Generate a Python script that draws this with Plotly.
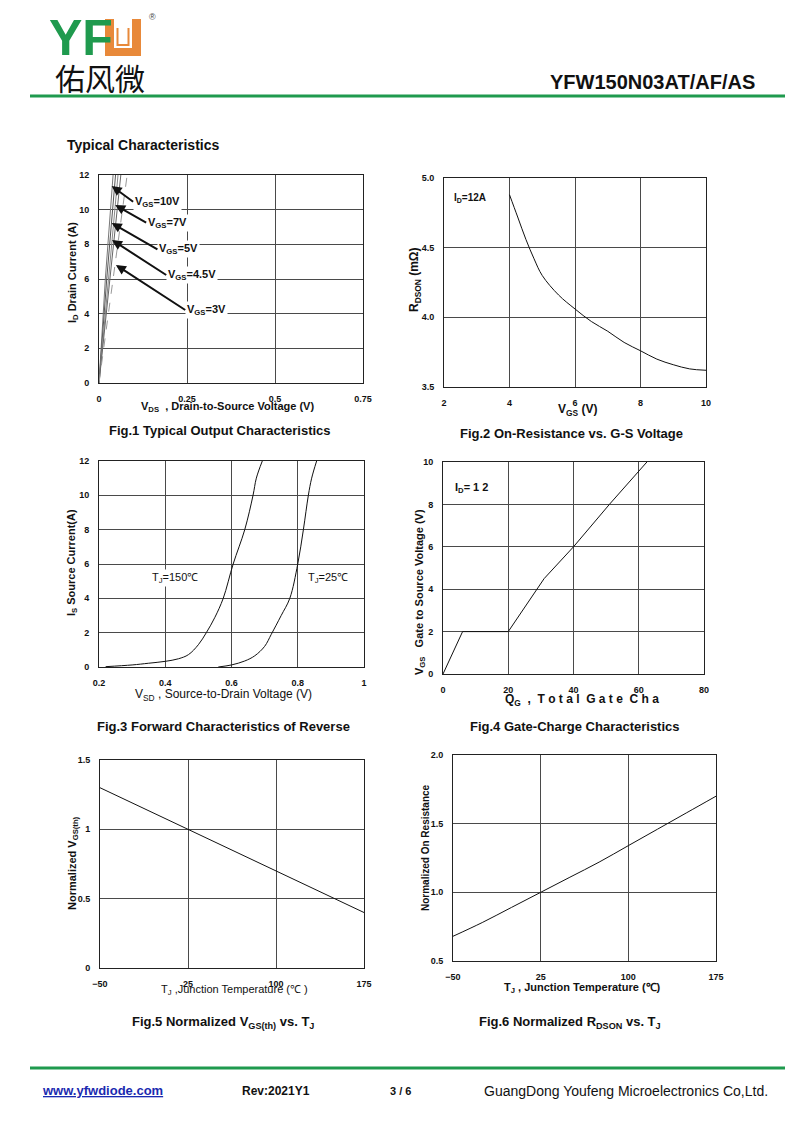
import plotly.graph_objects as go

PAGE_W, PAGE_H = 800, 1130
OFF = 8  # browser body margin
W, H = PAGE_W - 2 * OFF, PAGE_H - 2 * OFF

# ---------------- data ----------------
# Fig.1 output characteristics (VDS in V, ID in A)
fig1_labels = ["V<sub>GS</sub>=10V", "V<sub>GS</sub>=7V", "V<sub>GS</sub>=5V", "V<sub>GS</sub>=4.5V", "V<sub>GS</sub>=3V"]
fig1_vds = [
    [0, 0.018, 0.040],
    [0, 0.022, 0.047],
    [0, 0.026, 0.054],
    [0, 0.030, 0.062],
    [0, 0.039, 0.080],
]
fig1_id = [
    [0, 6.0, 12],
    [0, 6.0, 12],
    [0, 6.0, 12],
    [0, 6.0, 12],
    [0, 6.0, 12],
]
fig1_tip_x = [0.036, 0.046, 0.036, 0.037, 0.048]
fig1_tip_y = [11.37, 10.27, 9.23, 8.25, 6.81]
fig1_lbl_x = [0.097, 0.134, 0.166, 0.191, 0.245]
fig1_lbl_y = [10.46, 9.25, 7.71, 6.23, 4.21]

# Fig.2 On-resistance vs VGS
fig2_vgs = [4.0, 4.25, 4.5, 4.75, 5.0, 5.5, 6.0, 6.5, 7.0, 7.5, 8.0, 8.5, 9.0, 9.5, 10.0]
fig2_rds = [4.88, 4.72, 4.56, 4.42, 4.30, 4.16, 4.06, 3.97, 3.90, 3.82, 3.76, 3.70, 3.66, 3.63, 3.62]

# Fig.3 forward characteristics of reverse diode
fig3_v150 = [0.22, 0.30, 0.35, 0.40, 0.44, 0.47, 0.50, 0.524, 0.55, 0.575, 0.605, 0.64, 0.665, 0.675, 0.693]
fig3_i150 = [0.02, 0.12, 0.22, 0.33, 0.48, 0.72, 1.3, 2.0, 2.9, 4.0, 6.0, 8.0, 10.0, 11.0, 12.0]
fig3_v25 = [0.56, 0.60, 0.64, 0.67, 0.70, 0.72, 0.75, 0.776, 0.80, 0.817, 0.832, 0.842, 0.857]
fig3_i25 = [0.0, 0.12, 0.35, 0.65, 1.2, 1.9, 3.0, 4.0, 6.0, 8.0, 10.0, 11.0, 12.0]

# Fig.4 gate charge
fig4_qg = [0, 6, 20, 31, 40, 51, 62.5]
fig4_vgs = [0, 2, 2, 4.5, 6, 8, 10]

# Fig.5 normalized VGS(th) vs TJ
fig5_tj = [-50, 25, 100, 150, 175]
fig5_v = [1.30, 1.00, 0.70, 0.50, 0.40]

# Fig.6 normalized RDSON vs TJ
fig6_tj = [-50, -25, 0, 25, 50, 75, 100, 125, 150, 175]
fig6_r = [0.68, 0.78, 0.89, 1.00, 1.11, 1.22, 1.34, 1.46, 1.58, 1.70]

# ---------------- helpers ----------------
def X(px):
    return (px - OFF) / W

def Y(py):
    return 1 - (py - OFF) / H

FONT = "Liberation Sans, Arial, sans-serif"
NARROW = "Liberation Sans Narrow, Liberation Sans, Arial, sans-serif"
GRID = "#4a4a4a"
CAP = 13

fig = go.Figure()
annotations = []
shapes = []

def add_axes(n, px0, px1, py0, py1, xr, yr, xt, yt, xtt=None, ytt=None):
    sfx = "" if n == 1 else str(n)
    common = dict(showgrid=True, gridcolor=GRID, gridwidth=1, showline=True,
                  linecolor="#222", linewidth=1, mirror=True, zeroline=False,
                  ticks="", ticklabelstandoff=7,
                  tickfont=dict(family=FONT, size=9, color="#111", weight="bold"))
    xa = dict(common, domain=[X(px0), X(px1)], range=xr, tickvals=xt,
              anchor="y" + sfx, fixedrange=True)
    ya = dict(common, domain=[Y(py1), Y(py0)], range=yr, tickvals=yt,
              anchor="x" + sfx, fixedrange=True)
    if xtt is not None:
        xa["ticktext"] = xtt
    if ytt is not None:
        ya["ticktext"] = ytt
    fig.update_layout(**{"xaxis" + sfx: xa, "yaxis" + sfx: ya})
    return "x" + sfx, "y" + sfx

def txt(px, py, s, size=11, bold=True, color="#111", xanchor="center", angle=0, family=FONT):
    annotations.append(dict(xref="paper", yref="paper", x=X(px), y=Y(py), text=s,
                            showarrow=False, xanchor=xanchor, yanchor="middle",
                            textangle=angle,
                            font=dict(family=family, size=size, color=color,
                                      weight="bold" if bold else "normal")))

# ---------------- Fig.1 ----------------
xr1, yr1 = add_axes(1, 99, 363, 175, 383, [0, 0.75], [0, 12],
                    [0, 0.25, 0.5, 0.75], [0, 2, 4, 6, 8, 10, 12],
                    ["0", "0.25", "0.5", "0.75"])
greys = ["#777", "#555", "#888", "#666", "#999"]
for i in range(len(fig1_labels)):
    fig.add_trace(go.Scatter(x=fig1_vds[i], y=fig1_id[i], mode="lines",
                             line=dict(color=greys[i], width=1,
                                       dash="dash" if i == 4 else "solid"),
                             xaxis=xr1, yaxis=yr1, showlegend=False, hoverinfo="skip"))
    annotations.append(dict(xref=xr1, yref=yr1, x=fig1_tip_x[i], y=fig1_tip_y[i],
                            axref=xr1, ayref=yr1, ax=fig1_lbl_x[i], ay=fig1_lbl_y[i],
                            text=fig1_labels[i], showarrow=True, arrowhead=2,
                            arrowsize=1, arrowwidth=2, arrowcolor="#111",
                            xanchor="left", yanchor="middle", bgcolor="white",
                            font=dict(family=FONT, size=11, color="#111", weight="bold")))
txt(228, 407, "V<sub>DS</sub>  , Drain-to-Source Voltage (V)", 11)
txt(73, 273, "I<sub>D</sub> Drain Current (A)", 11, angle=-90)
txt(220, 430, "Fig.1 Typical Output Characteristics", CAP)

# ---------------- Fig.2 ----------------
xr2, yr2 = add_axes(2, 444, 706, 178, 387, [2, 10], [3.5, 5.0],
                    [2, 4, 6, 8, 10], [3.5, 4.0, 4.5, 5.0],
                    None, ["3.5", "4.0", "4.5", "5.0"])
fig.add_trace(go.Scatter(x=fig2_vgs, y=fig2_rds, mode="lines", line=dict(color="#111", width=1, shape="spline"),
                         xaxis=xr2, yaxis=yr2, showlegend=False, hoverinfo="skip"))
txt(452, 198, "I<sub>D</sub>=12A", 10, xanchor="left")
txt(577, 410, "V<sub>GS</sub> (V)", 12)
txt(415, 280, "R<sub>DSON</sub> (mΩ)", 12, angle=-90)
txt(571, 433, "Fig.2 On-Resistance vs. G-S Voltage", CAP)

# ---------------- Fig.3 ----------------
xr3, yr3 = add_axes(3, 99, 364, 461, 667, [0.2, 1.0], [0, 12],
                    [0.2, 0.4, 0.6, 0.8, 1.0], [0, 2, 4, 6, 8, 10, 12],
                    ["0.2", "0.4", "0.6", "0.8", "1"])
fig.add_trace(go.Scatter(x=fig3_v150, y=fig3_i150, mode="lines", line=dict(color="#111", width=1, shape="spline"),
                         xaxis=xr3, yaxis=yr3, showlegend=False, hoverinfo="skip"))
fig.add_trace(go.Scatter(x=fig3_v25, y=fig3_i25, mode="lines", line=dict(color="#111", width=1, shape="spline"),
                         xaxis=xr3, yaxis=yr3, showlegend=False, hoverinfo="skip"))
for lx, s in [(0.43, "T<sub>J</sub>=150℃"), (0.892, "T<sub>J</sub>=25℃")]:
    annotations.append(dict(xref=xr3, yref=yr3, x=lx, y=5.2, text=s, showarrow=False,
                            bgcolor="white", font=dict(family=FONT, size=11, color="#111")))
txt(224, 695, "V<sub>SD</sub> , Source-to-Drain Voltage (V)", 12, bold=False)
txt(72, 562, "I<sub>S</sub> Source Current(A)", 11, angle=-90)
txt(224, 726, "Fig.3 Forward Characteristics of Reverse", CAP)

# ---------------- Fig.4 ----------------
xr4, yr4 = add_axes(4, 443, 704, 462, 674, [0, 80], [0, 10],
                    [0, 20, 40, 60, 80], [0, 2, 4, 6, 8, 10])
fig.add_trace(go.Scatter(x=fig4_qg, y=fig4_vgs, mode="lines", line=dict(color="#111", width=1),
                         xaxis=xr4, yaxis=yr4, showlegend=False, hoverinfo="skip"))
txt(453, 488, "I<sub>D</sub>= 1 2", 11, xanchor="left")
txt(503, 700, "Q<sub>G</sub>  ,  T o t a l  G a t e  C h a", 12, xanchor="left")
txt(420, 592, "V<sub>GS</sub>   Gate to Source Voltage (V)", 11, angle=-90)
txt(575, 726, "Fig.4 Gate-Charge Characteristics", CAP)

# ---------------- Fig.5 ----------------
xr5, yr5 = add_axes(5, 100, 364, 760, 968, [-50, 175], [0, 1.5],
                    [-50, 25, 100, 175], [0, 0.5, 1, 1.5],
                    None, ["0", "0.5", "1", "1.5"])
fig.add_trace(go.Scatter(x=fig5_tj, y=fig5_v, mode="lines", line=dict(color="#111", width=1),
                         xaxis=xr5, yaxis=yr5, showlegend=False, hoverinfo="skip"))
txt(234, 990, "T<sub>J</sub> ,Junction Temperature (℃ )", 11, bold=False)
txt(73, 863, "Normalized V<sub>GS(th)</sub>", 11, angle=-90)
txt(223, 1022, "Fig.5 Normalized V<sub>GS(th)</sub> vs. T<sub>J</sub>", CAP)

# ---------------- Fig.6 ----------------
xr6, yr6 = add_axes(6, 453, 716, 755, 961, [-50, 175], [0.5, 2.0],
                    [-50, 25, 100, 175], [0.5, 1.0, 1.5, 2.0],
                    None, ["0.5", "1.0", "1.5", "2.0"])
fig.add_trace(go.Scatter(x=fig6_tj, y=fig6_r, mode="lines", line=dict(color="#111", width=1, shape="spline"),
                         xaxis=xr6, yaxis=yr6, showlegend=False, hoverinfo="skip"))
txt(582, 988, "T<sub>J</sub> , Junction Temperature (℃)", 11)
txt(425, 848, "Normalized On Resistance", 10, angle=-90)
txt(570, 1022, "Fig.6 Normalized R<sub>DSON</sub> vs. T<sub>J</sub>", CAP)

# ---------------- page header / footer ----------------
GREEN = "#1f9a4e"
ORANGE = "#e8893a"
txt(47, 38, "YF", 50, color=GREEN, xanchor="left", family=NARROW)
shapes.append(dict(type="rect", xref="paper", yref="paper", x0=X(105), x1=X(141), y0=Y(56), y1=Y(19),
                   fillcolor=ORANGE, line=dict(width=0)))
shapes.append(dict(type="rect", xref="paper", yref="paper", x0=X(114), x1=X(132), y0=Y(48), y1=Y(19),
                   fillcolor="white", line=dict(width=0)))
shapes.append(dict(type="path", xref="paper", yref="paper",
                   path="M {},{} L {},{} L {},{} L {},{}".format(X(117.5), Y(28), X(117.5), Y(45),
                                                                  X(128.5), Y(45), X(128.5), Y(28)),
                   line=dict(color=ORANGE, width=2)))
txt(152, 17, "®", 9, bold=False, color="#444")
txt(53, 77, "佑风微", 30, bold=False, color="#111", xanchor="left", family="Noto Sans CJK SC")
txt(757, 82, "YFW150N03AT/AF/AS", 20, xanchor="right", family=NARROW)
shapes.append(dict(type="line", xref="paper", yref="paper", x0=X(30), x1=X(785), y0=Y(96), y1=Y(96),
                   line=dict(color=GREEN, width=3)))
txt(65, 145, "Typical Characteristics", 14, xanchor="left")

shapes.append(dict(type="line", xref="paper", yref="paper", x0=X(30), x1=X(785), y0=Y(1068), y1=Y(1068),
                   line=dict(color=GREEN, width=3)))
txt(40, 1090, "<u>www.yfwdiode.com</u>", 13, color="#1a2ab0", xanchor="left")
txt(240, 1091, "Rev:2021Y1", 12, xanchor="left")
txt(388, 1091, "3 / 6", 11, xanchor="left")
txt(482, 1091, "GuangDong Youfeng Microelectronics Co,Ltd.", 14, bold=False, xanchor="left")

fig.update_layout(width=W, height=H,
                  margin=dict(l=0, r=0, t=0, b=0, pad=0, autoexpand=False),
                  paper_bgcolor="white", plot_bgcolor="white",
                  annotations=annotations, shapes=shapes, showlegend=False,
                  font=dict(family=FONT))
fig.write_html("out.html")
